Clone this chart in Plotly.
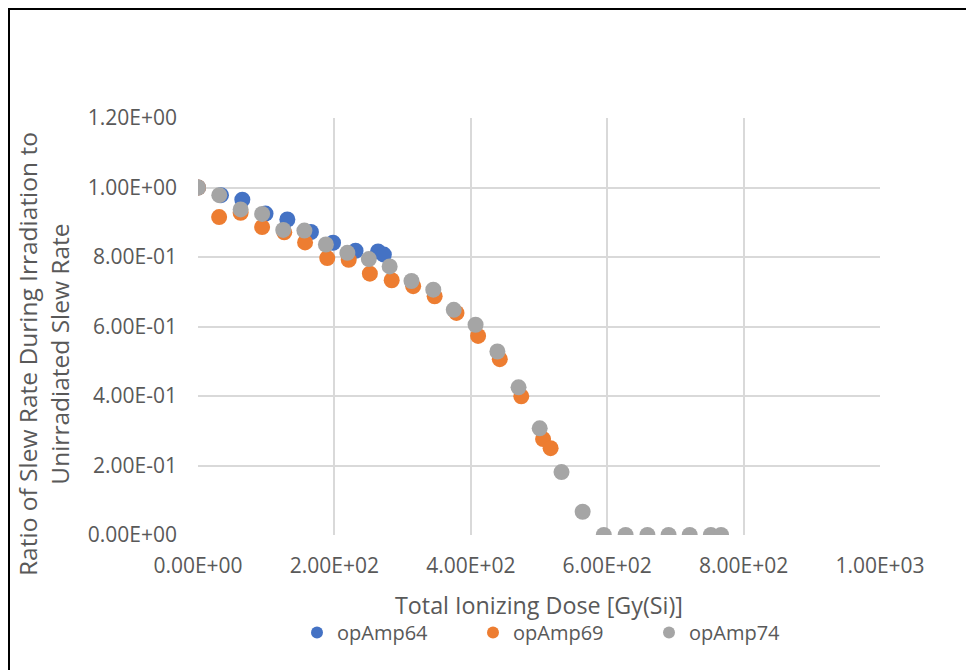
import plotly.graph_objects as go

dose64 = [0, 33.7, 65, 99, 131, 165.6, 198, 231, 264, 272.5]
ratio64 = [1.0, 0.978, 0.965, 0.925, 0.908, 0.872, 0.841, 0.818, 0.816, 0.807]

dose69 = [0, 31, 62.5, 94, 126.5, 157, 189.5, 221, 252, 284, 315.5, 347, 379, 410.7, 442.5, 474, 506, 517]
ratio69 = [1.0, 0.915, 0.927, 0.886, 0.871, 0.842, 0.797, 0.792, 0.752, 0.733, 0.716, 0.687, 0.639, 0.573, 0.506, 0.399, 0.276, 0.250]

dose74 = [0, 31.2, 62.5, 94, 125, 156, 187.5, 219, 250.5, 281, 313, 345, 375, 407, 439, 470, 501, 533, 564,
          595, 627, 659, 690, 721, 752, 767]
ratio74 = [1.0, 0.978, 0.937, 0.924, 0.878, 0.876, 0.836, 0.812, 0.794, 0.773, 0.731, 0.706, 0.648, 0.605, 0.528,
           0.425, 0.307, 0.181, 0.067, 0, 0, 0, 0, 0, 0, 0]

x_ticks = [0, 200, 400, 600, 800, 1000]
x_labels = ["0.00E+00", "2.00E+02", "4.00E+02", "6.00E+02", "8.00E+02", "1.00E+03"]
y_ticks = [0, 0.2, 0.4, 0.6, 0.8, 1.0, 1.2]
y_labels = ["0.00E+00", "2.00E-01", "4.00E-01", "6.00E-01", "8.00E-01", "1.00E+00", "1.20E+00"]

x_title = "Total Ionizing Dose [Gy(Si)]"
y_title = "Ratio of Slew Rate During Irradiation to<br>Unirradiated Slew Rate"

FONT = "Open Sans"
GRAY = "#595959"

O = 8  # page body offset
L, T = 198 - O, 118 - O
PW, PH = 682, 417
R, B = 974 - L - PW, 670 - T - PH
BOT = 535  # page y of plot bottom


def py(page_y):
    return (BOT - page_y) / PH


def px(page_x):
    return (page_x - 198) / PW


fig = go.Figure()
for name, xs, ys, col in [("opAmp64", dose64, ratio64, "#4472C4"),
                          ("opAmp69", dose69, ratio69, "#ED7D31"),
                          ("opAmp74", dose74, ratio74, "#A5A5A5")]:
    fig.add_trace(go.Scatter(x=xs, y=ys, mode="markers", name=name,
                             marker=dict(size=16, color=col, line=dict(width=0))))

fig.update_layout(
    width=974, height=670,
    margin=dict(l=L, r=R, t=T, b=B, autoexpand=False),
    paper_bgcolor="white", plot_bgcolor="white",
    font=dict(family=FONT, size=16, color=GRAY),
    showlegend=True,
    legend=dict(orientation="h", x=0.5 + 22 / PW, xanchor="center", y=py(613), yanchor="top",
                font=dict(family=FONT, size=20, color=GRAY),
                entrywidth=131, entrywidthmode="pixels", itemsizing="constant",
                itemwidth=30, traceorder="normal"),
    xaxis=dict(range=[0, 1000], tickvals=x_ticks, ticktext=x_labels,
               showgrid=True, gridcolor="#D9D9D9", gridwidth=1.5,
               zeroline=False, showline=False, ticks="", automargin=False,
               ticklabelstandoff=16,
               tickfont=dict(family=FONT, size=21, color=GRAY)),
    yaxis=dict(range=[0, 1.2], tickvals=y_ticks, ticktext=y_labels,
               showgrid=True, gridcolor="#D9D9D9", gridwidth=1.5,
               zeroline=False, showline=False, ticks="", automargin=False,
               ticklabelstandoff=20,
               tickfont=dict(family=FONT, size=21, color=GRAY)),
    annotations=[
        dict(text=x_title, xref="paper", yref="paper", x=0.5, y=py(605),
             xanchor="center", yanchor="middle", showarrow=False,
             font=dict(family=FONT, size=23.3, color=GRAY)),
        dict(text=y_title, xref="paper", yref="paper", x=px(43), y=py(354),
             xanchor="center", yanchor="middle", showarrow=False, textangle=-90,
             font=dict(family=FONT, size=24.5, color=GRAY)),
    ],
    shapes=[dict(type="rect", xref="paper", yref="paper",
                 x0=px(9), x1=1.3, y0=-0.6, y1=py(9),
                 line=dict(color="black", width=2), fillcolor="rgba(0,0,0,0)", layer="below")],
)

fig.write_html("out.html")
